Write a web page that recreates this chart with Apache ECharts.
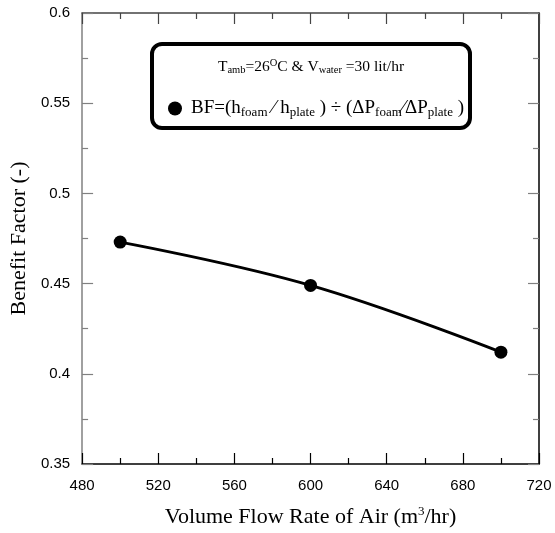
<!DOCTYPE html>
<html><head><meta charset="utf-8">
<script src="https://cdn.jsdelivr.net/npm/echarts@6/dist/echarts.min.js"></script>
<style>html,body{margin:0;padding:0;background:#fff}#c{width:555px;height:533px}</style>
</head><body><div id="c"></div>
<script>
const airFlow = [500, 600, 700];
const benefitFactor = [0.473, 0.449, 0.412];
const xRange = [480, 720, 40];
const yRange = [0.35, 0.6, 0.05];
const seriesName = 'BF';

const serif = '"Liberation Serif", "Times New Roman", serif';
const sans = '"Liberation Sans", Arial, sans-serif';

const chart = echarts.init(document.getElementById('c'));

function axisCommon(color, tickColor) {
  return {
    axisLine: { show: true, onZero: false, lineStyle: { color: color, width: 1.5 } },
    axisTick: { show: true, inside: true, length: 11, lineStyle: { color: tickColor, width: 1.2 } },
    minorTick: { show: true, splitNumber: 2, length: 6, lineStyle: { color: tickColor, width: 1.2 } },
    splitLine: { show: false },
    minorSplitLine: { show: false }
  };
}

const option = {
  backgroundColor: '#fff',
  animation: false,
  grid: { left: 80, top: 13, right: 16, bottom: 63, containLabel: false },
  xAxis: [
    Object.assign({
      type: 'value', position: 'bottom', min: xRange[0], max: xRange[1], interval: xRange[2],
      axisLabel: { show: true, margin: 14, color: '#000', fontSize: 15, fontFamily: sans },
      name: '{a|Volume Flow Rate of Air (m}{s|3}{a|/hr)}',
      nameLocation: 'middle', nameGap: 41,
      nameTextStyle: {
        rich: {
          a: { fontFamily: serif, fontSize: 22, color: '#000', lineHeight: 24 },
          s: { fontFamily: serif, fontSize: 13, color: '#000', verticalAlign: 'top', lineHeight: 13 }
        }
      }
    }, axisCommon('#000', '#000')),
    Object.assign({
      type: 'value', position: 'top', min: xRange[0], max: xRange[1], interval: xRange[2],
      axisLabel: { show: false }
    }, axisCommon('#444', '#444'))
  ],
  yAxis: [
    Object.assign({
      type: 'value', position: 'left', min: yRange[0], max: yRange[1], interval: yRange[2],
      axisLabel: { show: true, margin: 12, color: '#000', fontSize: 15, fontFamily: sans },
      name: 'Benefit Factor (-)',
      nameLocation: 'middle', nameGap: 49,
      nameTextStyle: { fontFamily: serif, fontSize: 22, color: '#000' }
    }, axisCommon('#808080', '#808080')),
    Object.assign({
      type: 'value', position: 'right', min: yRange[0], max: yRange[1], interval: yRange[2],
      axisLabel: { show: false }
    }, axisCommon('#000', '#808080'))
  ],
  legend: {
    show: true,
    left: 168, top: 99,
    padding: 0,
    icon: 'circle',
    itemWidth: 14, itemHeight: 14,
    data: [seriesName],
    formatter: function () {
      return '{f|BF=(h}{s|foam}{m| ⁄ h}{s|plate}{m| ) ÷ (ΔP}{s|foam}{m|⁄ΔP}{s|plate}{m| )}';
    },
    textStyle: {
      rich: {
        f: { fontFamily: serif, fontSize: 19, color: '#000', lineHeight: 22, padding: [0, 0, 0, 4] },
        m: { fontFamily: serif, fontSize: 19, color: '#000', lineHeight: 22 },
        s: { fontFamily: serif, fontSize: 13, color: '#000', verticalAlign: 'bottom', lineHeight: 12 }
      }
    }
  },
  graphic: [
    {
      type: 'rect', shape: { x: 152, y: 44, width: 318, height: 84, r: 10 },
      style: { fill: 'none', stroke: '#000', lineWidth: 4 }, z: 10
    },
    {
      type: 'text', x: 311, y: 67, z: 10,
      style: {
        text: '{m|T}{s|amb}{m|=26}{p|O}{m|C & V}{s|water}{m| =30 lit/hr}',
        align: 'center', verticalAlign: 'middle',
        rich: {
          m: { fontFamily: serif, fontSize: 15.5, fill: '#000', lineHeight: 18 },
          s: { fontFamily: serif, fontSize: 10.5, fill: '#000', verticalAlign: 'bottom', lineHeight: 10 },
          p: { fontFamily: serif, fontSize: 10.5, fill: '#000', verticalAlign: 'top', lineHeight: 10 }
        }
      }
    }
  ],
  series: [
    {
      name: seriesName,
      type: 'line',
      xAxisIndex: 0, yAxisIndex: 0,
      smooth: 0.4,
      data: airFlow.map((x, i) => [x, benefitFactor[i]]),
      symbol: 'circle', symbolSize: 13,
      itemStyle: { color: '#000' },
      lineStyle: { color: '#000', width: 3 }
    }
  ]
};
chart.setOption(option);
</script>
</body></html>
